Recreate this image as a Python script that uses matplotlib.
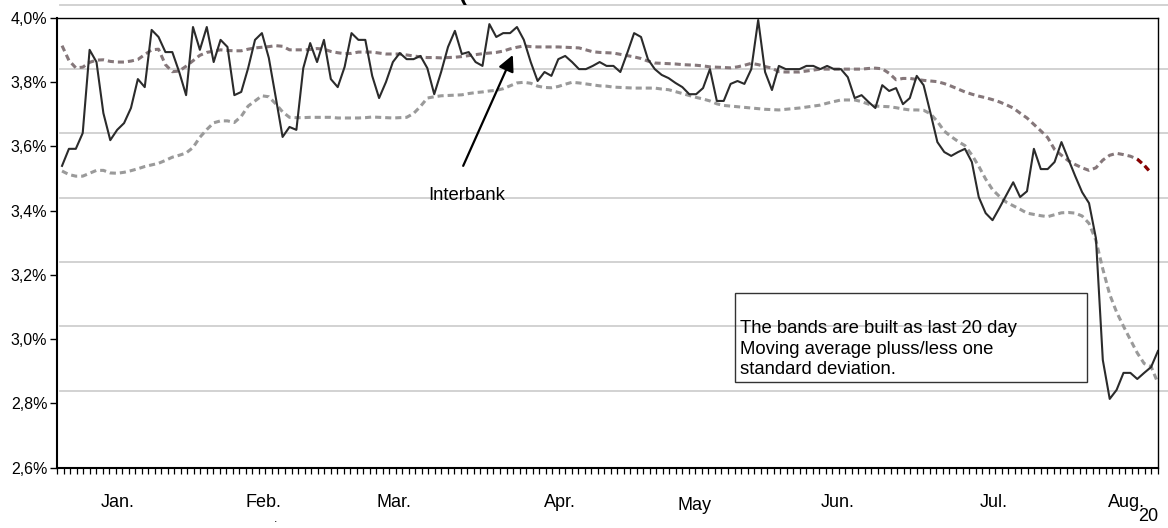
import numpy as np
import matplotlib.pyplot as plt
from matplotlib.patches import Rectangle

plt.rcParams['font.family'] = ['Liberation Sans', 'DejaVu Sans']

# Interbank rate, daily observations (percent)
interbank = [
    3.539, 3.592, 3.592, 3.641, 3.900, 3.862, 3.703, 3.619, 3.651, 3.672,
    3.719, 3.809, 3.784, 3.962, 3.940, 3.893, 3.893, 3.831, 3.759, 3.971,
    3.900, 3.971, 3.862, 3.931, 3.909, 3.759, 3.769, 3.843, 3.931, 3.952,
    3.875, 3.753, 3.629, 3.660, 3.651, 3.843, 3.921, 3.862, 3.931, 3.809,
    3.784, 3.847, 3.952, 3.931, 3.931, 3.819, 3.750, 3.800, 3.862, 3.890,
    3.871, 3.871, 3.881, 3.843, 3.762, 3.831, 3.909, 3.959, 3.887, 3.893,
    3.862, 3.850, 3.980, 3.940, 3.952, 3.952, 3.971, 3.931, 3.862, 3.803,
    3.831, 3.819, 3.871, 3.881, 3.862, 3.840, 3.840, 3.850, 3.862, 3.850,
    3.850, 3.831, 3.890, 3.952, 3.940, 3.871, 3.840, 3.822, 3.812, 3.797,
    3.784, 3.762, 3.762, 3.781, 3.840, 3.741, 3.741, 3.794, 3.803, 3.794,
    3.840, 3.993, 3.831, 3.775, 3.850, 3.840, 3.840, 3.840, 3.850, 3.850,
    3.840, 3.850, 3.840, 3.840, 3.815, 3.750, 3.759, 3.738, 3.719, 3.790,
    3.772, 3.781, 3.731, 3.750, 3.819, 3.790, 3.703, 3.613, 3.582, 3.570,
    3.582, 3.592, 3.551, 3.442, 3.392, 3.370, 3.408, 3.448, 3.488, 3.442,
    3.460, 3.592, 3.529, 3.529, 3.551, 3.613, 3.560, 3.507, 3.457, 3.423,
    3.314, 2.935, 2.814, 2.842, 2.895, 2.895, 2.876, 2.895, 2.913, 2.963,
]

# 20 day moving average plus one standard deviation
upper_band = [
    3.913, 3.867, 3.844, 3.846, 3.861, 3.868, 3.869, 3.864, 3.862, 3.862,
    3.865, 3.870, 3.885, 3.900, 3.902, 3.854, 3.832, 3.834, 3.849, 3.866,
    3.883, 3.892, 3.896, 3.900, 3.898, 3.897, 3.897, 3.902, 3.906, 3.908,
    3.910, 3.913, 3.911, 3.900, 3.900, 3.900, 3.901, 3.904, 3.902, 3.895,
    3.891, 3.888, 3.889, 3.893, 3.893, 3.893, 3.890, 3.887, 3.887, 3.887,
    3.884, 3.881, 3.878, 3.876, 3.876, 3.875, 3.876, 3.877, 3.879, 3.882,
    3.885, 3.888, 3.890, 3.892, 3.896, 3.903, 3.908, 3.912, 3.910, 3.909,
    3.909, 3.909, 3.909, 3.908, 3.907, 3.906, 3.900, 3.894, 3.892, 3.891,
    3.890, 3.886, 3.882, 3.878, 3.873, 3.865, 3.859, 3.858, 3.857, 3.856,
    3.854, 3.853, 3.852, 3.850, 3.847, 3.846, 3.845, 3.844, 3.847, 3.852,
    3.858, 3.854, 3.848, 3.843, 3.832, 3.831, 3.831, 3.831, 3.834, 3.837,
    3.840, 3.840, 3.840, 3.840, 3.840, 3.840, 3.840, 3.842, 3.843, 3.841,
    3.827, 3.807, 3.811, 3.811, 3.808, 3.805, 3.803, 3.801, 3.795, 3.787,
    3.778, 3.769, 3.762, 3.756, 3.751, 3.745, 3.738, 3.729, 3.719, 3.703,
    3.688, 3.668, 3.648, 3.627, 3.590, 3.572, 3.555, 3.543, 3.533, 3.525,
    3.533, 3.557, 3.572, 3.578, 3.574, 3.569, 3.560, 3.541, 3.517,
]

# 20 day moving average minus one standard deviation
lower_band = [
    3.523, 3.512, 3.507, 3.507, 3.516, 3.525, 3.525, 3.517, 3.516, 3.519,
    3.524, 3.530, 3.537, 3.542, 3.547, 3.556, 3.566, 3.572, 3.579, 3.596,
    3.628, 3.652, 3.673, 3.679, 3.679, 3.674, 3.693, 3.725, 3.741, 3.757,
    3.754, 3.732, 3.707, 3.690, 3.689, 3.689, 3.690, 3.690, 3.690, 3.690,
    3.688, 3.688, 3.688, 3.688, 3.689, 3.691, 3.690, 3.689, 3.688, 3.689,
    3.690, 3.702, 3.724, 3.750, 3.754, 3.757, 3.758, 3.759, 3.760, 3.764,
    3.767, 3.769, 3.772, 3.774, 3.779, 3.788, 3.797, 3.799, 3.796, 3.787,
    3.783, 3.782, 3.786, 3.793, 3.799, 3.797, 3.794, 3.791, 3.788, 3.787,
    3.784, 3.783, 3.782, 3.781, 3.781, 3.781, 3.781, 3.778, 3.776, 3.770,
    3.764, 3.758, 3.752, 3.747, 3.741, 3.732, 3.727, 3.725, 3.723, 3.721,
    3.719, 3.717, 3.715, 3.714, 3.713, 3.715, 3.717, 3.719, 3.722, 3.725,
    3.728, 3.734, 3.739, 3.744, 3.744, 3.744, 3.739, 3.731, 3.725, 3.724,
    3.723, 3.720, 3.716, 3.713, 3.713, 3.712, 3.701, 3.677, 3.647, 3.630,
    3.615, 3.602, 3.573, 3.538, 3.498, 3.465, 3.444, 3.426, 3.415, 3.404,
    3.392, 3.388, 3.384, 3.381, 3.387, 3.393, 3.394, 3.392, 3.383, 3.360,
    3.307, 3.218, 3.139, 3.084, 3.040, 2.998, 2.957, 2.924, 2.915, 2.863,
]

months = ['Jan.', 'Feb.', 'Mar.', 'Apr.', 'May', 'Jun.', 'Jul.', 'Aug.']
month_pos = [8.0, 29.2, 48.2, 72.2, 91.8, 112.6, 135.1, 154.5]
yticks = [2.6, 2.8, 3.0, 3.2, 3.4, 3.6, 3.8, 4.0]
grid_levels = [2.84, 3.04, 3.24, 3.44, 3.64, 3.84, 4.04]

fig = plt.figure(figsize=(11.68, 5.28), dpi=100)
ax = fig.add_axes([0.0488, 0.1142, 0.9426, 0.8523])

days = np.arange(len(interbank))
ub_days = np.arange(len(upper_band))
lb_days = np.arange(len(lower_band))

# light horizontal rules, running a little past the frame
ytrans = ax.get_yaxis_transform()
for g in grid_levels:
    ax.plot([0.003, 1.01], [g, g], transform=ytrans, color='#cfcfcf',
            lw=1.3, clip_on=False, zorder=0)

ax.plot(lb_days, lower_band, color='#9a9a9a', lw=2.2,
        linestyle=(0, (2, 1.3)), zorder=2)
ax.plot(ub_days, upper_band, color='#85777a', lw=2.2,
        linestyle=(0, (2, 1.3)), zorder=2)
ax.plot(ub_days[-3:], upper_band[-3:], color='#8b0000', lw=2.2,
        linestyle=(0, (2, 1.3)), zorder=2)
ax.plot(days, interbank, color='#2b2b2b', lw=1.5, zorder=3)

ax.set_xlim(-0.73, 159.0)
ax.set_ylim(2.6, 4.0)

ax.set_yticks(yticks)
ax.set_yticklabels([f'{v:.1f}%'.replace('.', ',') for v in yticks])
ax.tick_params(axis='y', direction='out', length=5, width=1, labelsize=11.5,
               pad=2)

# one small tick per category along the bottom
ax.set_xticks(np.linspace(-0.73, 159.0, 170))
ax.set_xticklabels([])
ax.tick_params(axis='x', direction='out', length=4, width=0.9)

for name, pos in zip(months, month_pos):
    dy = -0.065 if name == 'May' else -0.058
    ax.text(pos, dy, name, transform=ax.get_xaxis_transform(),
            ha='center', va='top', fontsize=13)

for side in ['left', 'bottom']:
    ax.spines[side].set_linewidth(1.5)
for side in ['top', 'right']:
    ax.spines[side].set_linewidth(1.0)

# note box
ax.add_patch(Rectangle((0.616, 0.190), 0.3195, 0.198, transform=ax.transAxes,
                       fill=False, edgecolor='#333333', lw=1.0, zorder=4))
ax.text(0.620, 0.263,
        'The bands are built as last 20 day\n'
        'Moving average pluss/less one\n'
        'standard deviation.',
        transform=ax.transAxes, ha='left', va='center', fontsize=13.3,
        linespacing=1.28, zorder=5)

# series label with arrow
ax.annotate('', xy=(65.4, 3.884), xytext=(58.2, 3.539),
            arrowprops=dict(arrowstyle='-|>', color='black', lw=1.6,
                            mutation_scale=24, shrinkA=0, shrinkB=0))
ax.text(0.337, 0.604, 'Interbank', transform=ax.transAxes, ha='left',
        va='center', fontsize=13.3)

# cut-off heading at the very top edge
fig.text(0.393, 1.012, '(', ha='left', va='center', fontsize=17,
         fontweight='bold')

fig.text(0.983, 0.022, '20', ha='center', va='center', fontsize=13)
fig.text(0.236, 0.006, '.', ha='center', va='bottom', fontsize=9)

fig.savefig('out.png', dpi=100)
